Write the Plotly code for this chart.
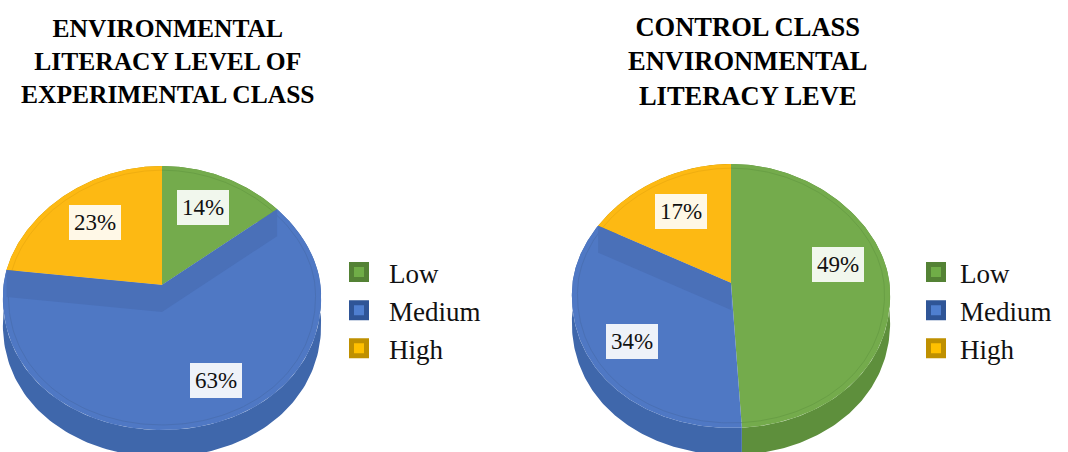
import numpy as np
import plotly.graph_objects as go

categories = ["Low", "Medium", "High"]
experimental_values = [14, 63, 23]
control_values = [49, 34, 17]
experimental_title = "ENVIRONMENTAL<br>LITERACY LEVEL OF<br>EXPERIMENTAL CLASS"
control_title = "CONTROL CLASS<br>ENVIRONMENTAL<br>LITERACY LEVE"

TOP = ["#74ab4c", "#4f78c4", "#fdb913"]
SIDE = ["#5e8f3c", "#3f67ab", "#bf9000"]
WALL = ["#679a42", "#4a70b8", "#d9a000"]
RIM = ["#699f45", "#4a70b4", "#f0ae10"]
SW_OUT = ["#548235", "#2f5597", "#bf9000"]
SW_IN = ["#70ad47", "#4f7fd0", "#ffc000"]
FONT = "Liberation Serif"
RX, RY_UP, RY_DOWN, DEPTH, PERSPECTIVE = 158.5, 119, 145, 27, 0.09
W, H = 1068, 452


def to_xy(angle, cx, cy, k=1.0):
    a = np.radians(angle)
    c = np.cos(a)
    return (cx + k * RX * np.sin(a) * (1 - PERSPECTIVE * k * c),
            cy - k * np.where(c >= 0, RY_UP, RY_DOWN) * c)


def add_pie(fig, values, cx, cy, legend):
    edges = np.cumsum([0] + list(values)) * 3.6
    n = len(values)
    # side of the disc
    for i in range(n):
        t = np.linspace(edges[i], edges[i + 1], 160)
        x, y = to_xy(t, cx, cy)
        fig.add_trace(go.Scatter(
            x=np.r_[x, x[::-1]], y=np.r_[y, y[::-1] + DEPTH], mode="lines",
            fill="toself", fillcolor=SIDE[i], line=dict(width=0),
            hoverinfo="skip", showlegend=False))
    # top faces
    for i in range(n):
        t = np.linspace(edges[i], edges[i + 1], 160)
        x, y = to_xy(t, cx, cy)
        fig.add_trace(go.Scatter(
            x=np.r_[cx, x, cx], y=np.r_[cy, y, cy], mode="lines",
            fill="toself", fillcolor=TOP[i], line=dict(width=0),
            hoverinfo="skip", showlegend=False))
    # faint bevel rim
    for i in range(n):
        t = np.linspace(edges[i], edges[i + 1], 160)
        x, y = to_xy(t, cx, cy, 0.965)
        fig.add_trace(go.Scatter(x=x, y=y, mode="lines",
                                 line=dict(width=1, color=RIM[i]),
                                 hoverinfo="skip", showlegend=False))
    # inner wall seen below each upward-facing cut, in the colour of the
    # slice that lies in front of that cut
    for ang in edges[1:-1]:
        if np.cos(np.radians(ang)) <= 0.02:
            continue
        ex, ey = to_xy(ang, cx, cy)
        ex, ey = float(ex), float(ey)
        px, py = (ex - cx) * 0.5, (ey - cy) * 0.5 + DEPTH
        probe = np.degrees(np.arctan2(px / RX, -py / (RY_DOWN if py > 0 else RY_UP))) % 360
        owner = int(np.searchsorted(edges, probe) - 1)
        fig.add_trace(go.Scatter(
            x=[cx, ex, ex, cx, cx], y=[cy, ey, ey + DEPTH, cy + DEPTH, cy],
            mode="lines", fill="toself", fillcolor=WALL[owner],
            line=dict(width=0), hoverinfo="skip", showlegend=False))
    # legend entries
    for i, name in enumerate(categories):
        fig.add_trace(go.Scatter(
            x=[None], y=[None], mode="markers", name=name, legend=legend,
            marker=dict(symbol="square", size=15, color=SW_IN[i],
                        line=dict(width=5, color=SW_OUT[i]))))


fig = go.Figure()
add_pie(fig, experimental_values, 162, 285, "legend")
add_pie(fig, control_values, 731, 283, "legend2")


def label(text, x, y, edge):
    fig.add_annotation(x=x, y=y, text=text, showarrow=False,
                       font=dict(family=FONT, size=23, color="#111"),
                       bgcolor="rgba(255,255,255,0.9)", bordercolor=edge,
                       borderwidth=1, borderpad=5)


for txt, x, y, i in [(f"{experimental_values[0]}%", 203, 207, 0),
                     (f"{experimental_values[1]}%", 216, 380, 1),
                     (f"{experimental_values[2]}%", 95, 222, 2),
                     (f"{control_values[0]}%", 838, 264, 0),
                     (f"{control_values[1]}%", 632, 341, 1),
                     (f"{control_values[2]}%", 681, 211, 2)]:
    label(txt, x, y, TOP[i])

for txt, x, size in [(experimental_title, 168, 25.5), (control_title, 748, 26.5)]:
    fig.add_annotation(x=x, y=61, text=txt, showarrow=False, align="center",
                       font=dict(family=FONT, size=size, color="black",
                                 weight="bold"))

legend_style = dict(font=dict(family=FONT, size=27, color="#111"),
                    bgcolor="rgba(0,0,0,0)", itemsizing="trace",
                    xanchor="left", yanchor="top", traceorder="normal",
                    itemclick=False, itemdoubleclick=False)
fig.update_layout(
    width=W, height=H, margin=dict(l=0, r=0, t=0, b=0),
    paper_bgcolor="white", plot_bgcolor="white", autosize=False,
    xaxis=dict(range=[0, W], visible=False, fixedrange=True),
    yaxis=dict(range=[H, 0], visible=False, fixedrange=True),
    legend=dict(x=329 / W, y=1 - 248 / H, itemwidth=50, **legend_style),
    legend2=dict(x=912 / W, y=1 - 248 / H, itemwidth=38, **legend_style),
)
fig.write_html("out.html", config=dict(displayModeBar=False),
               post_script="document.body.style.margin='0';document.body.style.overflow='hidden';")
